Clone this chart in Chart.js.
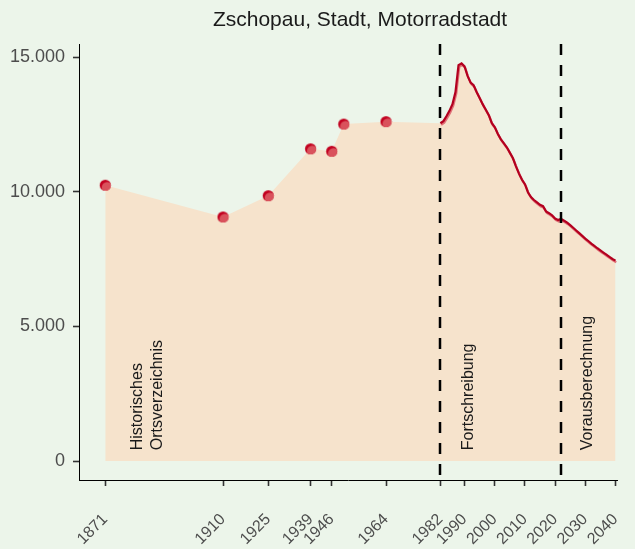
<!DOCTYPE html>
<html lang="de">
<head>
<meta charset="utf-8">
<title>Zschopau, Stadt, Motorradstadt</title>
<script src="https://cdn.jsdelivr.net/npm/chart.js@4/dist/chart.umd.min.js"></script>
<style>
  html, body { margin: 0; padding: 0; background: #ecf5ea; }
  #wrap { width: 635px; height: 549px; }
</style>
</head>
<body>
<div id="wrap"><canvas id="chart" width="635" height="549"></canvas></div>
<script>
// Historische Ortsverzeichnis-Werte
const histYears = [1871, 1910, 1925, 1939, 1946, 1950, 1964];
const histPop = [10240, 9060, 9850, 11590, 11500, 12510, 12600];

// Fortschreibung
const fortYears = [1982, 1983, 1984, 1985, 1986, 1987, 1988, 1989, 1990, 1991, 1992, 1993, 1994, 1995, 1996, 1997, 1998, 1999, 2000, 2001, 2002, 2003, 2004, 2005, 2006, 2007, 2008, 2009, 2010, 2011, 2012, 2013, 2014, 2015, 2016, 2017, 2018, 2019, 2020, 2021, 2022];
const fortPop = [12540, 12620, 12800, 13000, 13250, 13700, 14700, 14760, 14650, 14300, 14050, 13950, 13700, 13480, 13250, 13050, 12850, 12550, 12400, 12150, 11950, 11800, 11650, 11450, 11250, 10950, 10680, 10450, 10280, 9980, 9800, 9690, 9600, 9510, 9460, 9270, 9200, 9120, 9000, 8950, 8990];

// Vorausberechnung
const projYears = [2022, 2023, 2024, 2025, 2026, 2027, 2028, 2029, 2030, 2031, 2032, 2033, 2034, 2035, 2036, 2037, 2038, 2039, 2040];
const projPop = [8990, 8920, 8850, 8760, 8660, 8560, 8460, 8360, 8260, 8170, 8070, 7990, 7900, 7820, 7740, 7660, 7580, 7500, 7440];

const xTicks = [1871, 1910, 1925, 1939, 1946, 1964, 1982, 1990, 2000, 2010, 2020, 2030, 2040];
const yTicks = [0, 5000, 10000, 15000];
const breakYears = [1982, 2022];
const sectionLabels = [
  { year: 1881.8, text: 'Historisches' },
  { year: 1888.4, text: 'Ortsverzeichnis' },
  { year: 1991.2, text: 'Fortschreibung' },
  { year: 2030.9, text: 'Vorausberechnung' }
];
const title = 'Zschopau, Stadt, Motorradstadt';

const pts = (xs, ys) => xs.map((x, i) => ({ x, y: ys[i] }));
const areaData = pts(histYears, histPop).concat(pts(fortYears, fortPop), pts(projYears.slice(1), projPop.slice(1)));
const fmt = v => String(v).replace(/\B(?=(\d{3})+(?!\d))/g, '.');
const FONT = '"Liberation Sans", Arial, sans-serif';

// two-tone dot (dark with lighter lower-right part)
const dot = document.createElement('canvas');
dot.width = 13; dot.height = 13;
(() => {
  const c = dot.getContext('2d');
  c.beginPath(); c.arc(6.5, 6.5, 5.6, 0, Math.PI * 2); c.fillStyle = '#c2001f'; c.fill();
  c.save(); c.clip();
  c.beginPath(); c.arc(8.3, 8.6, 5.4, 0, Math.PI * 2); c.fillStyle = '#d9525c'; c.fill();
  c.restore();
})();

const shadowLine = {
  id: 'shadowLine',
  beforeDatasetDraw(chart, args) {
    if (!chart.data.datasets[args.index].shadow) return;
    const ctx = chart.ctx;
    ctx.save();
    ctx.shadowColor = 'rgba(222,100,110,0.9)';
    ctx.shadowOffsetX = 0.8; ctx.shadowOffsetY = 1.6; ctx.shadowBlur = 0;
  },
  afterDatasetDraw(chart, args) {
    if (chart.data.datasets[args.index].shadow) chart.ctx.restore();
  }
};

const decor = {
  id: 'decor',
  afterDatasetsDraw(chart) {
    const { ctx, chartArea: a, scales: { x, y } } = chart;
    ctx.save();
    ctx.strokeStyle = '#000'; ctx.lineWidth = 2.5; ctx.setLineDash([11, 10]);
    breakYears.forEach(yr => {
      const px = Math.round(x.getPixelForValue(yr));
      ctx.beginPath(); ctx.moveTo(px, a.top); ctx.lineTo(px, a.bottom); ctx.stroke();
    });
    ctx.setLineDash([]);
    ctx.fillStyle = '#1a1a1a'; ctx.font = '16px ' + FONT;
    ctx.textAlign = 'left'; ctx.textBaseline = 'middle';
    sectionLabels.forEach(l => {
      ctx.save();
      ctx.translate(x.getPixelForValue(l.year), y.getPixelForValue(400));
      ctx.rotate(-Math.PI / 2);
      ctx.fillText(l.text, 0, 0);
      ctx.restore();
    });
    ctx.restore();
  },
  afterDraw(chart) {
    const ctx = chart.ctx;
    ctx.save();
    ctx.fillStyle = '#1a1a1a'; ctx.font = '21px ' + FONT;
    ctx.textAlign = 'center'; ctx.textBaseline = 'middle';
    ctx.fillText(title, 360, 20);
    ctx.restore();
  }
};

new Chart(document.getElementById('chart'), {
  type: 'line',
  data: {
    datasets: [
      { data: areaData, order: 4, fill: 'origin', backgroundColor: '#f6e3cc', borderWidth: 0, pointRadius: 0, tension: 0 },
      { data: pts(fortYears, fortPop), order: 2, shadow: true, borderColor: '#b3001f', borderWidth: 2.2, pointRadius: 0, fill: false, clip: 4 },
      { data: pts(projYears, projPop), order: 2, shadow: true, borderColor: '#b3001f', borderWidth: 2.2, pointRadius: 0, fill: false, clip: 4 },
      { data: pts(histYears, histPop), order: 1, showLine: false, pointStyle: dot, pointRadius: 6, clip: 8 }
    ]
  },
  options: {
    responsive: false,
    animation: false,
    events: [],
    layout: { padding: { top: 44, right: 18, left: 0, bottom: 0 } },
    plugins: { legend: { display: false }, tooltip: { enabled: false }, title: { display: false } },
    scales: {
      x: {
        type: 'linear', min: 1862.3, max: 2040.5,
        afterBuildTicks: s => { s.ticks = xTicks.map(v => ({ value: v })); },
        afterFit: s => { s.height = 69; s.paddingLeft = 0; s.paddingRight = 0; },
        border: { display: true, color: '#000', width: 1 },
        grid: { drawOnChartArea: false, drawTicks: true, tickLength: 6, tickWidth: 1.6, color: '#333' },
        ticks: { autoSkip: false, minRotation: 45, maxRotation: 45, padding: 24, labelOffset: 0, color: '#4d4d4d', font: { family: FONT, size: 16 }, callback: v => String(v) }
      },
      y: {
        min: -705, max: 15483,
        afterBuildTicks: s => { s.ticks = yTicks.map(v => ({ value: v })); },
        afterFit: s => { s.width = 79; s.paddingTop = 0; s.paddingBottom = 0; },
        border: { display: true, color: '#000', width: 1 },
        grid: { drawOnChartArea: false, drawTicks: true, tickLength: 6, tickWidth: 1.6, color: '#333' },
        ticks: { padding: 8, color: '#4d4d4d', font: { family: FONT, size: 18 }, callback: v => fmt(v) }
      }
    }
  },
  plugins: [shadowLine, decor]
});
</script>
</body>
</html>
